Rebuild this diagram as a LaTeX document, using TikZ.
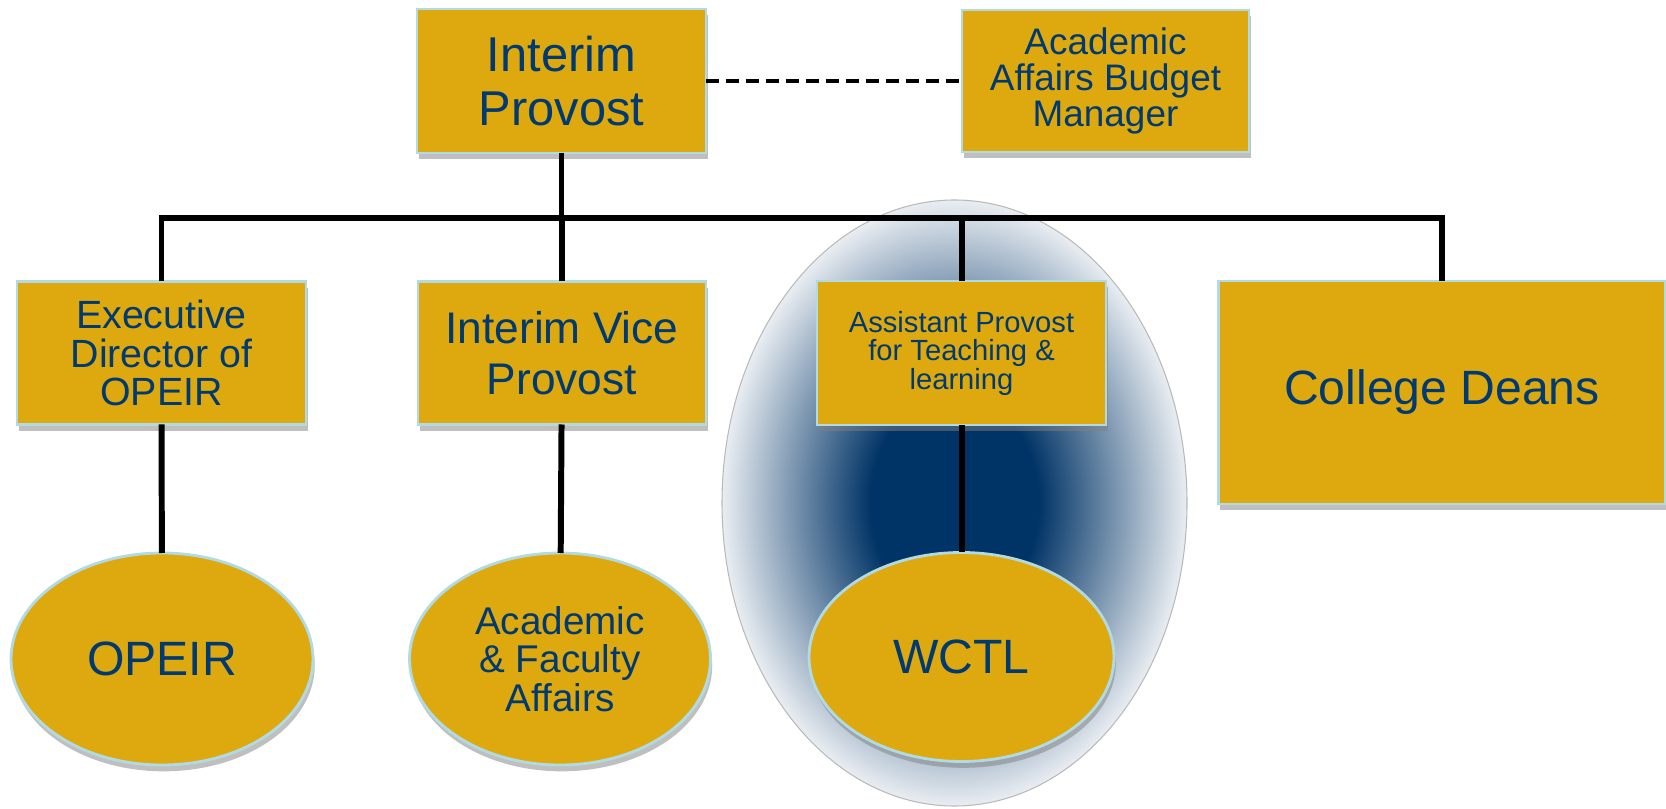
\documentclass[tikz,border=0pt]{standalone}
\usepackage{fontspec}
\setmainfont{Liberation Sans}
\usetikzlibrary{shapes.geometric,shadows}
\definecolor{gold}{RGB}{222,169,15}
\definecolor{navytext}{RGB}{0,58,112}
\definecolor{navyglow}{RGB}{0,51,102}
\definecolor{rim}{RGB}{176,218,228}
\pgfdeclareradialshading{glowshade}{\pgfpoint{0bp}{0bp}}{color(0bp)=(navyglow); color(9bp)=(navyglow); color(26.5bp)=(white); color(50bp)=(white)}
\tikzset{ box/.style = { rectangle % unit box
        , draw = rim
        , line width = 0.8pt
        , fill = gold
        , text = navytext
        , align = center
        , inner sep = 0pt
        , outer sep = 0pt
        , drop shadow = {shadow xshift=0.5pt, shadow yshift=-1.8pt, opacity=0.5}
        }
        , oval/.style = { box % office
        , ellipse
        }
        , glow/.style = { ellipse % highlight
        , draw = gray!55
        , line width = 0.3pt
        , shade
        , shading = glowshade
        , inner sep = 0pt
        }
        }

\begin{document}
\begin{tikzpicture}[
        edge_style/.style={draw=black, line width=1.7pt},
        dash_style/.style={draw=black, line width=1.4pt, dash pattern=on 3.7pt off 2pt},
        big_font/.style={font=\fontsize{13.9}{15.6}\selectfont},
        mid_font/.style={font=\fontsize{11.2}{10.9}\selectfont}]
        \useasboundingbox (0,0) rectangle (16.66,-8.09);

        \node [glow, minimum width=4.65cm, minimum height=6.06cm] (hl) at (9.545,-5.03) {};

        \node [box, big_font, minimum width=2.89cm, minimum height=1.44cm] (ip) at (5.615,-0.81) {Interim\\Provost};
        \node [box, font=\fontsize{10.5}{10.3}\selectfont, minimum width=2.87cm, minimum height=1.42cm] (bm) at (11.055,-0.81) {Academic\\Affairs Budget\\Manager};

        \node [box, mid_font, minimum width=2.89cm, minimum height=1.43cm] (ed) at (1.615,-3.53) {Executive\\Director of\\OPEIR};
        \node [box, font=\fontsize{12.6}{14.5}\selectfont, minimum width=2.88cm, minimum height=1.43cm] (vp) at (5.62,-3.53) {Interim Vice\\Provost};
        \node [box, font=\fontsize{8.3}{8.1}\selectfont, minimum width=2.89cm, minimum height=1.44cm] (ap) at (9.615,-3.53) {Assistant Provost\\for Teaching \&\\learning};
        \node [box, font=\fontsize{13.7}{15}\selectfont, minimum width=4.47cm, minimum height=2.23cm] (cd) at (14.42,-3.925) {College Deans};

        \node [oval, font=\fontsize{13.7}{15}\selectfont, minimum width=3.02cm, minimum height=2.12cm] (op) at (1.62,-6.59) {OPEIR};
        \node [oval, font=\fontsize{11}{11}\selectfont, minimum width=3.01cm, minimum height=2.12cm] (af) at (5.6,-6.59) {Academic\\\& Faculty\\Affairs};
        \node [oval, font=\fontsize{13.7}{15}\selectfont, minimum width=3.05cm, minimum height=2.09cm] (wc) at (9.615,-6.57) {WCTL};

        \coordinate (bar) at (0,-2.18);
        \draw [dash_style] (ip) -- (bm);
        \draw [edge_style] (ip) -- (ip |- bar);
        \draw [edge_style] (ed) -- (ed |- bar) -- (cd |- bar) -- (cd);
        \draw [edge_style] (vp) -- (vp |- bar);
        \draw [edge_style] (ap) -- (ap |- bar);
        \draw [edge_style] (ed) -- (op);
        \draw [edge_style] (vp) -- (af);
        \draw [edge_style] (ap) -- (wc);
\end{tikzpicture}
\end{document}
